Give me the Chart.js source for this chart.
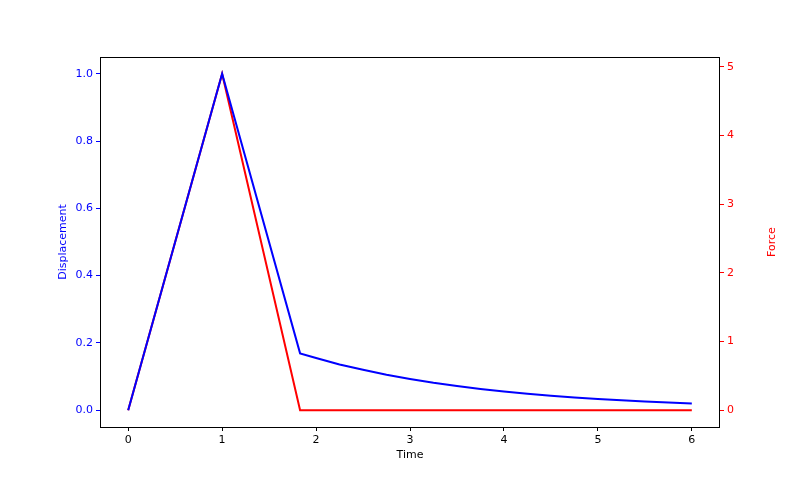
<!DOCTYPE html>
<html lang="en">
<head>
  <meta charset="UTF-8" />
  <title>Displacement and Force</title>
  <script src="https://cdn.jsdelivr.net/npm/chart.js"></script>
  <style>
    html, body { margin: 0; padding: 0; background: #fff; }
    #wrap { width: 800px; height: 480px; }
  </style>
</head>
<body>
  <div id="wrap"><canvas id="chart" width="800" height="480"></canvas></div>

  <script>
    // values
    const time = [0, 1, 1.83, 2, 2.25, 2.5, 2.75, 3, 3.25, 3.5, 3.75, 4, 4.25, 4.5, 4.75, 5, 5.25, 5.5, 5.75, 6];
    const displacement = [0, 1, 0.169, 0.155, 0.136, 0.120, 0.1055, 0.093, 0.0817, 0.072, 0.0633, 0.0557, 0.049, 0.0431, 0.0379, 0.0334, 0.0294, 0.0258, 0.0227, 0.020];
    const force = [0, 4.9, 0, 0, 0, 0, 0, 0, 0, 0, 0, 0, 0, 0, 0, 0, 0, 0, 0, 0];

    const timeTicks = [0, 1, 2, 3, 4, 5, 6];
    const dispTicks = [0, 0.2, 0.4, 0.6, 0.8, 1.0];
    const forceTicks = [0, 1, 2, 3, 4, 5];

    const font = { family: 'DejaVu Sans', size: 11 };

    const toPoints = (ys) => time.map((t, i) => ({ x: t, y: ys[i] }));
    const fixTicks = (list) => (scale) => { scale.ticks = list.map(v => ({ value: v })); };
    const fixSize = (size) => (scale) => {
      if (scale.isHorizontal()) scale.height = size; else scale.width = size;
    };

    // black frame round the plot and the right-hand title read bottom to top
    const framePlugin = {
      id: 'frame',
      afterDraw(chart) {
        const { ctx, chartArea: a } = chart;
        ctx.save();
        ctx.strokeStyle = '#000';
        ctx.lineWidth = 1;
        ctx.strokeRect(Math.round(a.left) + 0.5, Math.round(a.top) + 0.5,
          Math.round(a.right - a.left) - 1, Math.round(a.bottom - a.top));
        ctx.translate(772, (a.top + a.bottom) / 2);
        ctx.rotate(-Math.PI / 2);
        ctx.fillStyle = 'red';
        ctx.font = '11px "DejaVu Sans"';
        ctx.textAlign = 'center';
        ctx.textBaseline = 'middle';
        ctx.fillText('Force', 0, 0);
        ctx.restore();
      }
    };

    new Chart(document.getElementById('chart'), {
      type: 'line',
      data: {
        datasets: [
          {
            label: 'Displacement',
            data: toPoints(displacement),
            borderColor: 'blue',
            borderWidth: 2,
            pointRadius: 0,
            tension: 0,
            yAxisID: 'y'
          },
          {
            label: 'Force',
            data: toPoints(force),
            borderColor: 'red',
            borderWidth: 2,
            pointRadius: 0,
            tension: 0,
            yAxisID: 'y1'
          }
        ]
      },
      options: {
        responsive: false,
        animation: false,
        devicePixelRatio: 1,
        layout: { padding: { left: 57, right: 0, top: 57, bottom: 18 } },
        plugins: {
          legend: { display: false },
          tooltip: { enabled: false }
        },
        scales: {
          x: {
            type: 'linear',
            min: -0.3,
            max: 6.3,
            afterBuildTicks: fixTicks(timeTicks),
            afterFit: fixSize(35),
            ticks: { color: '#000', font, padding: 3, maxRotation: 0, autoSkip: false },
            grid: { drawOnChartArea: false, color: '#000', tickLength: 4 },
            border: { display: false },
            title: { display: true, text: 'Time', color: '#000', font, padding: { top: 0, bottom: 0 } }
          },
          y: {
            position: 'left',
            min: -0.05,
            max: 1.05,
            afterBuildTicks: fixTicks(dispTicks),
            afterFit: fixSize(43),
            ticks: { color: 'blue', font, padding: 3, autoSkip: false, callback: v => v.toFixed(1) },
            grid: { drawOnChartArea: false, color: 'blue', tickLength: 4 },
            border: { display: false },
            title: { display: true, text: 'Displacement', color: 'blue', font, padding: { top: 0, bottom: 0 } }
          },
          y1: {
            position: 'right',
            min: -0.245,
            max: 5.145,
            afterBuildTicks: fixTicks(forceTicks),
            afterFit: fixSize(80),
            ticks: { color: 'red', font, padding: 3, autoSkip: false },
            grid: { drawOnChartArea: false, color: 'red', tickLength: 4 },
            border: { display: false }
          }
        }
      },
      plugins: [framePlugin]
    });
  </script>
</body>
</html>
